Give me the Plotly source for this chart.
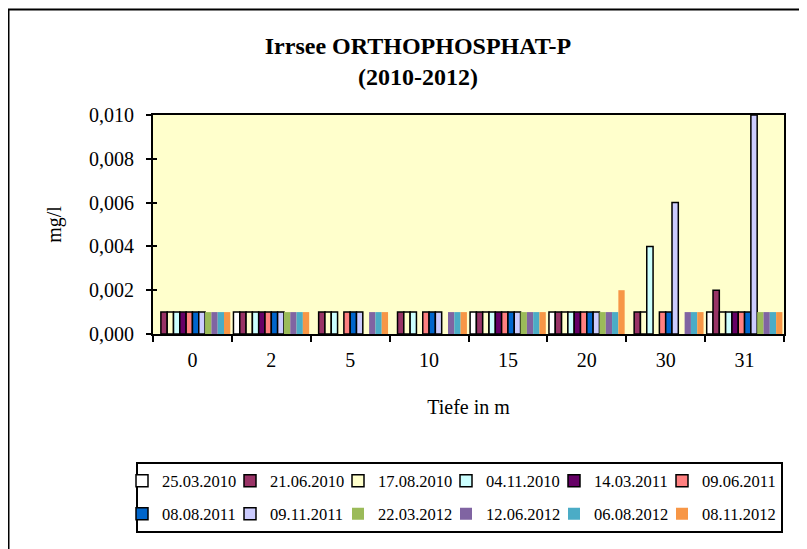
import plotly.graph_objects as go

# ---------------- data ----------------
depths = ["0", "2", "5", "10", "15", "20", "30", "31"]
dates = ["25.03.2010", "21.06.2010", "17.08.2010", "04.11.2010",
         "14.03.2011", "09.06.2011", "08.08.2011", "09.11.2011",
         "22.03.2012", "12.06.2012", "06.08.2012", "08.11.2012"]
N = None
v_25_03_2010 = [N, 0.001, N, N, 0.001, 0.001, N, 0.001]
v_21_06_2010 = [0.001, 0.001, 0.001, 0.001, 0.001, 0.001, 0.001, 0.002]
v_17_08_2010 = [0.001, 0.001, 0.001, 0.001, 0.001, 0.001, 0.001, 0.001]
v_04_11_2010 = [0.001, 0.001, 0.001, 0.001, 0.001, 0.001, 0.004, 0.001]
v_14_03_2011 = [0.001, 0.001, N, N, 0.001, 0.001, N, 0.001]
v_09_06_2011 = [0.001, 0.001, 0.001, 0.001, 0.001, 0.001, 0.001, 0.001]
v_08_08_2011 = [0.001, 0.001, 0.001, 0.001, 0.001, 0.001, 0.001, 0.001]
v_09_11_2011 = [0.001, 0.001, 0.001, 0.001, 0.001, 0.001, 0.006, 0.010]
v_22_03_2012 = [0.001, 0.001, N, N, 0.001, 0.001, N, 0.001]
v_12_06_2012 = [0.001, 0.001, 0.001, 0.001, 0.001, 0.001, 0.001, 0.001]
v_06_08_2012 = [0.001, 0.001, 0.001, 0.001, 0.001, 0.001, 0.001, 0.001]
v_08_11_2012 = [0.001, 0.001, 0.001, 0.001, 0.001, 0.002, 0.001, 0.001]
series_values = [v_25_03_2010, v_21_06_2010, v_17_08_2010, v_04_11_2010,
                 v_14_03_2011, v_09_06_2011, v_08_08_2011, v_09_11_2011,
                 v_22_03_2012, v_12_06_2012, v_06_08_2012, v_08_11_2012]
y_ticks = [0.000, 0.002, 0.004, 0.006, 0.008, 0.010]

# ---------------- styles ----------------
colors = ["#FFFFFF", "#993366", "#FFFFCC", "#CCFFFF", "#660066", "#FF8080",
          "#0066CC", "#CCCCFF", "#9BBB59", "#8064A2", "#4BACC6", "#F79646"]
outlined = [True] * 8 + [False] * 4
FONT = "Liberation Serif, Times New Roman, serif"

# the page body adds an 8px margin, so the figure is drawn 8px smaller
# and every reference pixel position is shifted by OFF
OFF = 8
W, H = 807 - OFF, 549 - OFF
ML, MT = 153 - OFF, 115 - OFF
PLOT_R, PLOT_B = 784 - OFF, 334 - OFF
MR, MB = W - PLOT_R, H - PLOT_B
PW, PH = W - ML - MR, H - MT - MB


def pxx(p):
    """reference-image x pixel -> paper x"""
    return (p - OFF - ML) / PW


def pxy(p):
    """reference-image y pixel -> paper y"""
    return (PLOT_B - (p - OFF)) / PH


fig = go.Figure()
for i, (name, vals) in enumerate(zip(dates, series_values)):
    fig.add_trace(go.Bar(
        x=depths, y=vals, name=name,
        marker=dict(color=colors[i],
                    line=dict(color="black", width=1.5 if outlined[i] else 0)),
        legend="legend" if i < 6 else "legend2",
        legendwidth=95 if i in (5, 11) else None,
    ))

legend_common = dict(
    orientation="h", xanchor="left", yanchor="middle",
    font=dict(family=FONT, size=16.5, color="black"),
    bgcolor="rgba(0,0,0,0)", borderwidth=0,
    entrywidth=63, entrywidthmode="pixels", traceorder="normal",
)

fig.update_layout(
    width=W, height=H,
    margin=dict(l=ML, r=MR, t=MT, b=MB, pad=0),
    paper_bgcolor="white", plot_bgcolor="#FFFFCC",
    barmode="group", bargap=0.04, bargroupgap=0,
    separators=",.",
    font=dict(family=FONT, size=20, color="black"),
    title=dict(text="<b>Irrsee ORTHOPHOSPHAT-P<br>(2010-2012)</b>",
               x=(418 - OFF) / W, xref="container", xanchor="center",
               y=1 - (54 - OFF) / H, yref="container", yanchor="top",
               font=dict(family=FONT, size=24, color="black")),
    xaxis=dict(type="category", categoryorder="array", categoryarray=depths,
               showline=True, linecolor="black", linewidth=2, mirror=True,
               ticks="outside", tickson="boundaries", ticklen=6, tickwidth=2,
               tickcolor="black", showgrid=False, zeroline=False,
               ticklabelstandoff=7,
               tickfont=dict(family=FONT, size=20),
               title=dict(text="Tiefe in m", standoff=30,
                          font=dict(family=FONT, size=20))),
    yaxis=dict(range=[0, 0.010], tickvals=y_ticks, tickformat=".3f",
               showline=True, linecolor="black", linewidth=2, mirror=True,
               ticks="outside", ticklen=5, tickwidth=2, tickcolor="black",
               showgrid=False, zeroline=False, ticklabelstandoff=8,
               tickfont=dict(family=FONT, size=20),
               title=dict(text="mg/l", standoff=22,
                          font=dict(family=FONT, size=20))),
    yaxis2=dict(range=[0, 0.010], tickvals=y_ticks, overlaying="y",
                side="left", ticks="inside", ticklen=4, tickwidth=2,
                tickcolor="black", showticklabels=False, showgrid=False,
                zeroline=False, showline=False),
    legend=dict(**legend_common, x=pxx(122), y=pxy(481)),
    legend2=dict(**legend_common, x=pxx(122), y=pxy(514)),
    showlegend=True,
    shapes=[
        # outer chart frame (continues past the right/bottom edge)
        dict(type="rect", xref="paper", yref="paper",
             x0=pxx(8.5), x1=pxx(840), y0=pxy(580), y1=pxy(9.5),
             line=dict(color="black", width=2), fillcolor="rgba(0,0,0,0)"),
        # legend box
        dict(type="rect", xref="paper", yref="paper",
             x0=pxx(137), x1=pxx(782), y0=pxy(532), y1=pxy(463),
             line=dict(color="black", width=2), fillcolor="rgba(0,0,0,0)"),
    ],
)
# invisible helper trace so the crossing-tick overlay axis is drawn
fig.add_trace(go.Scatter(x=[depths[0]], y=[None], yaxis="y2",
                         showlegend=False, hoverinfo="skip",
                         mode="markers", marker=dict(opacity=0)))

fig.write_html("out.html")
